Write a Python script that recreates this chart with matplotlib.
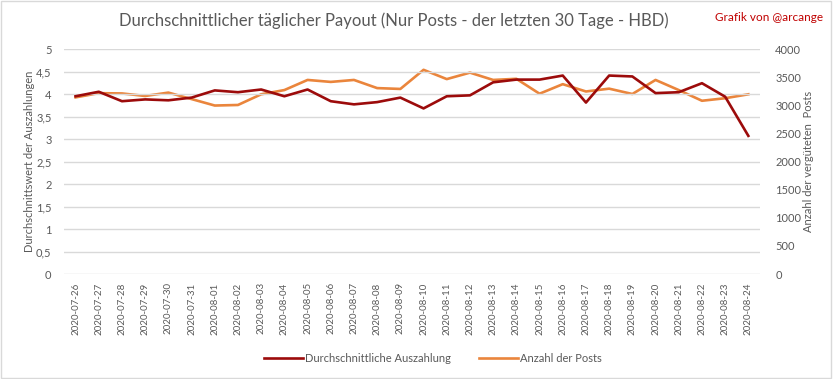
import matplotlib.pyplot as plt
from matplotlib.patches import Rectangle

dates = ['2020-07-26', '2020-07-27', '2020-07-28', '2020-07-29', '2020-07-30',
         '2020-07-31', '2020-08-01', '2020-08-02', '2020-08-03', '2020-08-04',
         '2020-08-05', '2020-08-06', '2020-08-07', '2020-08-08', '2020-08-09',
         '2020-08-10', '2020-08-11', '2020-08-12', '2020-08-13', '2020-08-14',
         '2020-08-15', '2020-08-16', '2020-08-17', '2020-08-18', '2020-08-19',
         '2020-08-20', '2020-08-21', '2020-08-22', '2020-08-23', '2020-08-24']

avg_payout = [3.95, 4.05, 3.84, 3.88, 3.86, 3.92, 4.08, 4.04, 4.10, 3.95,
              4.10, 3.84, 3.77, 3.82, 3.92, 3.68, 3.95, 3.97, 4.26, 4.32,
              4.32, 4.41, 3.81, 4.41, 4.39, 4.02, 4.04, 4.24, 3.94, 3.07]

num_posts = [3140, 3215, 3210, 3165, 3225, 3110, 2995, 3005, 3195, 3270,
             3450, 3415, 3450, 3305, 3290, 3630, 3465, 3580, 3450, 3470,
             3205, 3375, 3245, 3295, 3200, 3450, 3270, 3080, 3125, 3195]

left_ticks = [0, 0.5, 1, 1.5, 2, 2.5, 3, 3.5, 4, 4.5, 5]
right_ticks = [0, 500, 1000, 1500, 2000, 2500, 3000, 3500, 4000]

plt.rcParams['font.family'] = ['Lato', 'DejaVu Sans']
txt = '#595959'
red = '#9c0b0b'
orange = '#ea853c'

fig = plt.figure(figsize=(8.33, 3.79), dpi=100)
fig.patches.append(Rectangle((0.001, 0.002), 0.997, 0.995, transform=fig.transFigure,
                             fill=False, edgecolor='#d9d9d9', lw=1))
ax = fig.add_axes([0.0768, 0.277, 0.8355, 0.5937])
ax2 = ax.twinx()

x = list(range(len(dates)))
l1, = ax.plot(x, avg_payout, color=red, lw=1.9, label='Durchschnittliche Auszahlung', zorder=3)
l2, = ax2.plot(x, num_posts, color=orange, lw=1.9, label='Anzahl der Posts')
ax.set_zorder(ax2.get_zorder() + 1)
ax.patch.set_visible(False)

ax.set_xlim(-0.5, len(dates) - 0.5)
ax.set_ylim(0, 5)
ax2.set_ylim(0, 4000)
ax.set_yticks(left_ticks)
ax.set_yticklabels([('%g' % t).replace('.', ',') for t in left_ticks])
ax2.set_yticks(right_ticks)
ax.set_xticks(x)
ax.set_xticklabels(dates, rotation=90)

ax.grid(axis='y', color='#d9d9d9', lw=1)
for a in (ax, ax2):
    for s in a.spines.values():
        s.set_visible(False)
    a.tick_params(length=0, colors=txt, labelsize=8)
ax.tick_params(axis='x', labelsize=7, pad=6)
ax.tick_params(axis='y', pad=9)
ax2.tick_params(axis='y', pad=11)

ax.set_ylabel('Durchschnittswert der Auszahlungen', color=txt, fontsize=8, labelpad=1)
ax2.set_ylabel('Anzahl der vergüteten  Posts', color=txt, fontsize=8, labelpad=1)

fig.text(0.473, 0.945, 'Durchschnittlicher täglicher Payout (Nur Posts - der letzten 30 Tage - HBD)',
         ha='center', va='center', color=txt, fontsize=12)
fig.text(0.988, 0.955, 'Grafik von @arcange', ha='right', va='center', color='#c00000', fontsize=8.5)

fig.legend(handles=[l1, l2], loc='center', bbox_to_anchor=(0.52, 0.055), ncol=2,
           frameon=False, fontsize=8, labelcolor=txt, handlelength=3.5,
           handletextpad=0.2, columnspacing=2.5)

fig.savefig('out.png', dpi=100)
